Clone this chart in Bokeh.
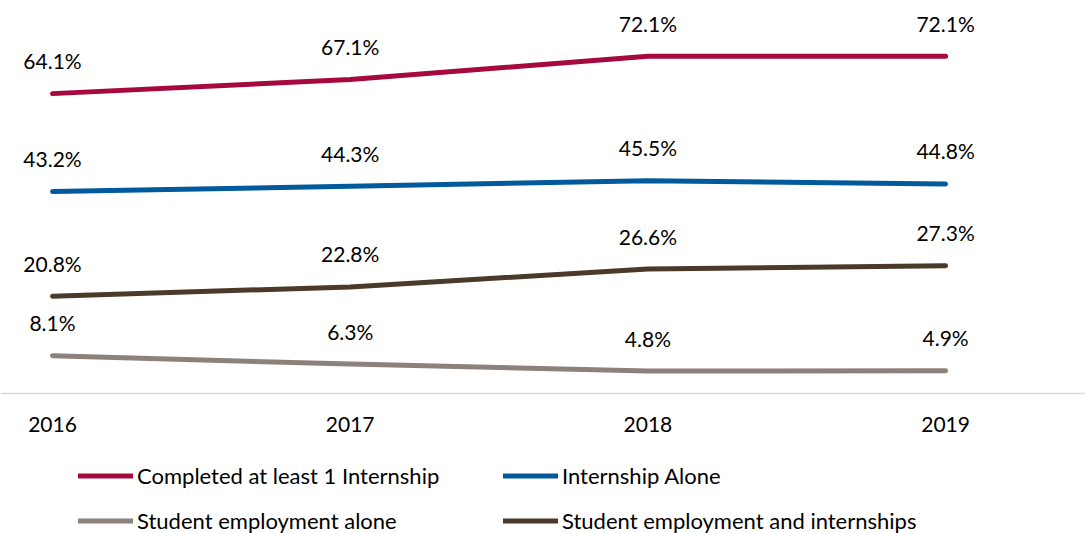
from bokeh.plotting import figure
from bokeh.models import ColumnDataSource, Range1d, Legend, LegendItem, FixedTicker
from bokeh.core.properties import value
from bokeh.embed import file_html
from bokeh.resources import INLINE

years = ["2016", "2017", "2018", "2019"]
completed = [64.1, 67.1, 72.1, 72.1]
intern_alone = [43.2, 44.3, 45.5, 44.8]
emp_and_intern = [20.8, 22.8, 26.6, 27.3]
emp_alone = [8.1, 6.3, 4.8, 4.9]

series = [
    ("Completed at least 1 Internship", completed, "#A6093D"),
    ("Internship Alone", intern_alone, "#005A9C"),
    ("Student employment and internships", emp_and_intern, "#4B3A2A"),
    ("Student employment alone", emp_alone, "#8C817B"),
]

FONT = "Lato"
xs = list(range(len(years)))

p = figure(width=1085, height=533, output_backend="svg", toolbar_location=None,
           x_range=Range1d(-0.1747, 3.470), y_range=Range1d(-29.9, 84.0),
           min_border_left=0, min_border_right=0, min_border_top=0, min_border_bottom=0)
p.outline_line_color = None
p.grid.visible = False
p.yaxis.visible = False

xa = p.xaxis[0]
xa.fixed_location = 0
xa.ticker = FixedTicker(ticks=xs)
xa.major_label_overrides = {i: y for i, y in enumerate(years)}
xa.axis_line_color = "#D9D9D9"
xa.axis_line_width = 1.5
xa.major_tick_line_color = None
xa.minor_tick_line_color = None
xa.major_label_standoff = 17
xa.major_label_text_font = FONT
xa.major_label_text_font_size = "21px"
xa.major_label_text_color = "#000000"

renderers = {}
for name, vals, color in series:
    src = ColumnDataSource(dict(x=xs, y=vals, lab=[f"{v:.1f}%" for v in vals]))
    r = p.line("x", "y", source=src, line_color=color, line_width=5, line_cap="round", line_join="round")
    renderers[name] = r
    p.text("x", "y", text="lab", source=src, y_offset=-33, text_align="center",
           text_baseline="middle", text_font=value(FONT), text_font_size="21px", text_color="#000000")

order = ["Completed at least 1 Internship", "Internship Alone",
         "Student employment alone", "Student employment and internships"]
legend = Legend(items=[LegendItem(label=n, renderers=[renderers[n]]) for n in order],
                orientation="horizontal", ncols=2,
                glyph_width=55, glyph_height=45, label_standoff=4, label_width=366,
                label_height=45, spacing=0, padding=0, margin=0,
                border_line_color=None, background_fill_color=None,
                label_text_font=FONT, label_text_font_size="22px", label_text_color="#000000",
                location=(78, -10))
p.add_layout(legend, "center")

open("out.html", "w").write(file_html(p, INLINE))
